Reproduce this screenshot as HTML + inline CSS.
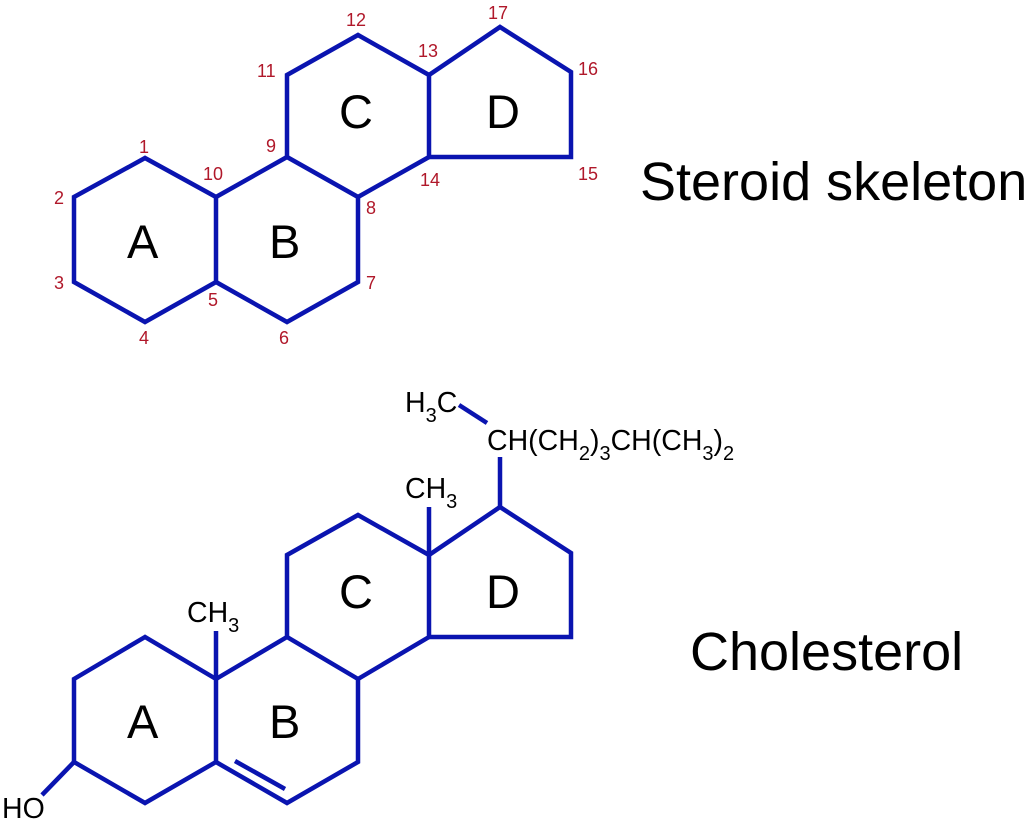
<!DOCTYPE html>
<html><head><meta charset="utf-8"><style>
html,body{margin:0;padding:0;background:#fff}
svg{display:block}
text{font-family:"Liberation Sans",sans-serif}
.n{fill:#b0182a;font-size:18px}
.r{fill:#000;font-size:47px}
.t{fill:#000;font-size:28.5px}
.s{font-size:20px}
</style></head><body>
<svg width="1032" height="830" viewBox="0 0 1032 830">
<g fill="none" stroke="#0a14b0" stroke-width="4.5" stroke-linejoin="miter">
<polygon points="145,158 74,197 74,282 145,322 216,282 216,197"/>
<polyline points="216,197 287,157 358,197 358,282 287,322 216,282"/>
<polyline points="287,157 287,75 358,35 429,75 429,157 358,197"/>
<polyline points="429,75 500,27 571,72 571,157 429,157"/>

<polygon points="145,637 74,679 74,762 145,803 216,762 216,679"/>
<polyline points="216,679 287,637 358,679 358,762 287,803 216,762"/>
<polyline points="287,637 287,555 358,515 429,555 429,637 358,679"/>
<polyline points="429,555 500,507 571,553 571,637 429,637"/>
<line x1="235" y1="761" x2="285" y2="789"/>
<line x1="74" y1="762" x2="42" y2="795"/>
<line x1="216" y1="679" x2="216" y2="631"/>
<line x1="429" y1="555" x2="429" y2="507"/>
<line x1="500" y1="507" x2="500" y2="457"/>
<line x1="459" y1="405" x2="487" y2="423"/>
</g>
<g class="n">
<text x="139" y="153">1</text>
<text x="54" y="204">2</text>
<text x="54" y="289">3</text>
<text x="139" y="344">4</text>
<text x="208" y="306">5</text>
<text x="279" y="344">6</text>
<text x="366" y="289">7</text>
<text x="366" y="214">8</text>
<text x="266" y="152">9</text>
<text x="203" y="180">10</text>
<text x="257" y="77">11</text>
<text x="346" y="26">12</text>
<text x="418" y="57">13</text>
<text x="420" y="186">14</text>
<text x="578" y="180">15</text>
<text x="578" y="75">16</text>
<text x="488" y="19">17</text>
</g>
<g class="r">
<text x="127" y="258">A</text>
<text x="269" y="258">B</text>
<text x="339" y="128">C</text>
<text x="486" y="128">D</text>
<text x="127" y="738">A</text>
<text x="269" y="738">B</text>
<text x="339" y="608">C</text>
<text x="486" y="608">D</text>
<text x="640" y="200" style="font-size:54px">Steroid skeleton</text>
<text x="690" y="670" style="font-size:54px">Cholesterol</text>
</g>
<g class="t">
<text x="2" y="818">HO</text>
<text x="187" y="622">CH<tspan class="s" dy="10">3</tspan></text>
<text x="405" y="498">CH<tspan class="s" dy="10">3</tspan></text>
<text x="405" y="412">H<tspan class="s" dy="10">3</tspan><tspan dy="-10">C</tspan></text>
<text x="487" y="450">CH(CH<tspan class="s" dy="10">2</tspan><tspan dy="-10">)</tspan><tspan class="s" dy="10">3</tspan><tspan dy="-10">CH(CH</tspan><tspan class="s" dy="10">3</tspan><tspan dy="-10">)</tspan><tspan class="s" dy="10">2</tspan></text>
</g>
</svg>
</body></html>
